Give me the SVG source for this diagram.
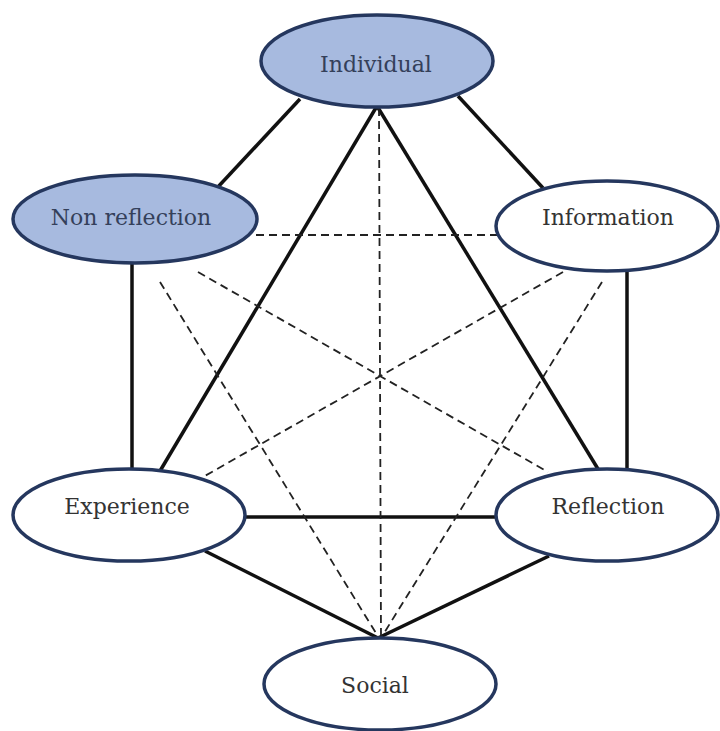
<svg xmlns="http://www.w3.org/2000/svg" width="720" height="731" viewBox="0 0 720 731">
<style>
.node ellipse{stroke:#25375e;stroke-width:3.5}
.blue{fill:#a7badf}
.white{fill:#ffffff}
.node text{font-family:"DejaVu Serif","Liberation Serif",serif;font-size:22px;text-anchor:middle;fill:#333333}
.node.b text{fill:#34405a}
.solid{stroke:#111111;stroke-width:3.5;fill:none}
.dash{stroke:#222222;stroke-width:1.8;stroke-dasharray:8 5;fill:none}
</style>
<rect width="720" height="731" fill="#ffffff"/>
<g id="connectors">
<line class="solid" x1="217" y1="188" x2="300" y2="99"/>
<line class="solid" x1="458" y1="96" x2="543" y2="188"/>
<line class="solid" x1="132" y1="258" x2="132" y2="472"/>
<line class="solid" x1="627" y1="265" x2="627" y2="470"/>
<line class="solid" x1="242" y1="517" x2="500" y2="517"/>
<line class="solid" x1="377" y1="106" x2="160" y2="471"/>
<line class="solid" x1="377" y1="106" x2="598" y2="469"/>
<line class="solid" x1="205" y1="551" x2="378" y2="638"/>
<line class="solid" x1="549" y1="556" x2="378" y2="638"/>
<line class="dash" x1="379" y1="108" x2="381" y2="638"/>
<line class="dash" x1="256" y1="235" x2="497" y2="235"/>
<line class="dash" x1="198" y1="272" x2="548" y2="472"/>
<line class="dash" x1="563" y1="272" x2="203" y2="477"/>
<line class="dash" x1="160" y1="282" x2="379" y2="638"/>
<line class="dash" x1="602" y1="282" x2="381" y2="638"/>
</g>
<g id="individual" class="node b">
<ellipse class="blue" cx="377" cy="61" rx="116" ry="46"/>
<text x="376" y="72">Individual</text>
</g>
<g id="non-reflection" class="node b">
<ellipse class="blue" cx="135" cy="219" rx="122" ry="44"/>
<text x="131" y="225">Non reflection</text>
</g>
<g id="information" class="node">
<ellipse class="white" cx="607" cy="226" rx="111" ry="45"/>
<text x="608" y="225">Information</text>
</g>
<g id="experience" class="node">
<ellipse class="white" cx="129" cy="515" rx="116" ry="46"/>
<text x="127" y="514">Experience</text>
</g>
<g id="reflection" class="node">
<ellipse class="white" cx="607" cy="515" rx="111" ry="46"/>
<text x="608" y="514">Reflection</text>
</g>
<g id="social" class="node">
<ellipse class="white" cx="380" cy="684" rx="116" ry="46"/>
<text x="375" y="693">Social</text>
</g>
</svg>
